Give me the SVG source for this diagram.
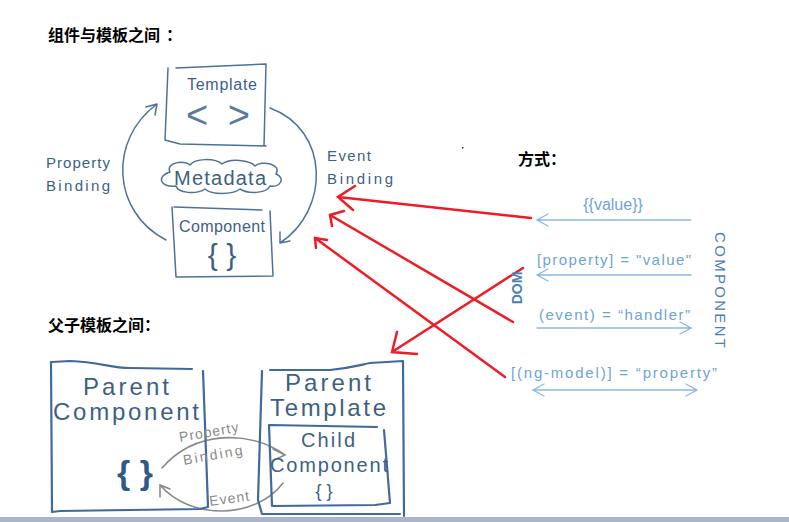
<svg xmlns="http://www.w3.org/2000/svg" width="789" height="522" viewBox="0 0 789 522">
<style>
.title{font-family:"Noto Sans CJK SC","Noto Sans CJK JP",sans-serif;font-weight:bold;font-size:16px;fill:#000}
.sk{fill:none;stroke:#4f7199;stroke-width:1.5;stroke-linecap:round;stroke-linejoin:round}
.skb{fill:none;stroke:#3f6a9a;stroke-width:2.2;stroke-linecap:round;stroke-linejoin:round}
.t{font-family:"Liberation Sans",sans-serif;fill:#3e5f85}
.lb{font-family:"Liberation Sans",sans-serif;fill:#6fa3d8}
.lbl{fill:none;stroke:#8ab8e4;stroke-width:1.3;stroke-linecap:round}
.gr{fill:none;stroke:#8a8a8a;stroke-width:1.6;stroke-linecap:round}
.gt{font-family:"Liberation Sans",sans-serif;fill:#8a8a8a}
.red{fill:none;stroke:#ee1c25;stroke-width:2.5;stroke-linecap:round}
</style>
<rect width="789" height="522" fill="#fff"/>
<text class="title" x="48" y="41">组件与模板之间</text>
<text class="title" x="166" y="41">：</text>
<text class="title" x="518" y="165">方式：</text>
<text class="title" x="48" y="331">父子模板之间：</text>
<rect x="462" y="147" width="1.5" height="1.5" fill="#333"/>

<g id="template">
<path class="sk" d="M176,68 L266,64 M266,64 L264,146 M168,68 L165,140 L180,144 L266,146"/>
<text class="t" x="222" y="90" font-size="16" text-anchor="middle" textLength="70">Template</text>
<text class="t" x="218" y="128" font-size="38" text-anchor="middle" textLength="64" style="fill:#5a7aa0">&lt; &gt;</text>
</g>
<g id="metadata">
<path class="sk" d="M170,172 C165,162 185,160 190,165 C195,158 215,158 222,164 C230,158 250,160 255,166 C262,160 282,164 276,174 C286,178 280,188 270,186 C266,194 248,194 240,189 C232,195 212,195 205,189 C196,195 178,193 176,186 C160,188 156,176 170,172 Z"/>
<text class="t" x="220" y="185" font-size="20" text-anchor="middle" textLength="92">Metadata</text>
</g>
<g id="component">
<path class="sk" d="M174,207 L262,210 M270,211 L273,276 L176,277 L172,207"/>
<text class="t" x="222" y="232" font-size="16" text-anchor="middle" textLength="86">Component</text>
<text class="t" x="222" y="265" font-size="30" text-anchor="middle">{  }</text>
</g>
<g id="labels-top">
<text class="t" x="46" y="168" font-size="15" textLength="64">Property</text>
<text class="t" x="46" y="191" font-size="15" textLength="64">Binding</text>
<text class="t" x="327" y="161" font-size="15" textLength="44">Event</text>
<text class="t" x="327" y="184" font-size="15" textLength="66">Binding</text>
</g>

<g id="connectors">
<path class="sk" d="M166,240 C112,212 108,140 157,104 M146,107 L157,104 L155,115"/>
<path class="sk" d="M270,108 C330,130 330,210 280,243 M280,232 L280,243 L290,241"/>

<path class="lbl" d="M691,220 L537,220 M548,214 L537,220 L548,226"/>
<path class="lbl" d="M691,275 L537,275 M548,269 L537,275 L548,281"/>
<path class="lbl" d="M537,328 L691,328 M680,322 L691,328 L680,334"/>
<path class="lbl" d="M533,390 L697,390 M544,384 L533,390 L544,396 M686,384 L697,390 L686,396"/>

<path class="gr" d="M162,468 C195,430 250,430 285,455 M273,449 L285,455 L274,460"/>
<path class="gr" d="M283,483 C255,520 190,520 160,485 M160,497 L160,485 L170,489"/>

<path class="red" d="M531,218 L338,197 M355,186 L338,197 L353,210"/>
<path class="red" d="M513,322 L330,215 M344,211 L330,215 L332,226"/>
<path class="red" d="M505,377 L315,238 M327,240 L315,238 L316,248"/>
<path class="red" d="M523,268 L392,352 M397,332 L392,352 L417,354"/>
</g>

<g id="ways">
<text class="lb" x="613" y="210" font-size="16" text-anchor="middle">{{value}}</text>
<text class="lb" x="537" y="265" font-size="15" textLength="154">[property] = "value"</text>
<text class="lb" x="539" y="320" font-size="15" textLength="151">(event) = “handler”</text>
<text class="lb" x="511" y="378" font-size="15" textLength="206">[(ng-model)] = “property”</text>
<text class="t" font-size="14" font-weight="bold" transform="translate(522,288) rotate(-90)" text-anchor="middle" style="fill:#4a80b8">DOM</text>
<text class="t" font-size="15" transform="translate(715,290) rotate(90)" text-anchor="middle" textLength="116" style="fill:#4a80b8">COMPONENT</text>
</g>

<g id="parent-component">
<path class="skb" d="M52,362 L70,361 C100,362 110,368 130,368 L192,369 M203,371 L208,507 L200,509 L60,511 L52,512 L51,362"/>
<text class="t" x="126" y="395" font-size="24" text-anchor="middle" textLength="86">Parent</text>
<text class="t" x="126" y="420" font-size="24" text-anchor="middle" textLength="146">Component</text>
<text class="t" x="135" y="484" font-size="34" font-weight="bold" text-anchor="middle" style="fill:#2f5a88">{ }</text>
</g>
<g id="parent-template">
<path class="skb" d="M270,370 L330,370 C350,368 360,365 370,363 L403,361 M403,361 L404,516 M262,371 L258,500 L262,514 L400,514"/>
<text class="t" x="328" y="391" font-size="24" text-anchor="middle" textLength="86">Parent</text>
<text class="t" x="328" y="416" font-size="24" text-anchor="middle" textLength="116">Template</text>
</g>
<g id="child-component">
<path class="skb" d="M270,425 L377,427 M384,430 L390,503 L375,505 L272,506 L269,425"/>
<text class="t" x="328" y="447" font-size="20" text-anchor="middle" textLength="54">Child</text>
<text class="t" x="329" y="472" font-size="20" text-anchor="middle" textLength="118">Component</text>
<text class="t" x="324" y="497" font-size="18" text-anchor="middle">{ }</text>
</g>
<g id="gray-labels">
<text class="gt" font-size="14" transform="translate(180,442) rotate(-10)" textLength="60">Property</text>
<text class="gt" font-size="14" transform="translate(184,465) rotate(-10)" textLength="60">Binding</text>
<text class="gt" font-size="14" transform="translate(210,506) rotate(-8)" textLength="40">Event</text>
</g>
<rect x="0" y="517" width="789" height="5" fill="#aab6c8"/>
</svg>
